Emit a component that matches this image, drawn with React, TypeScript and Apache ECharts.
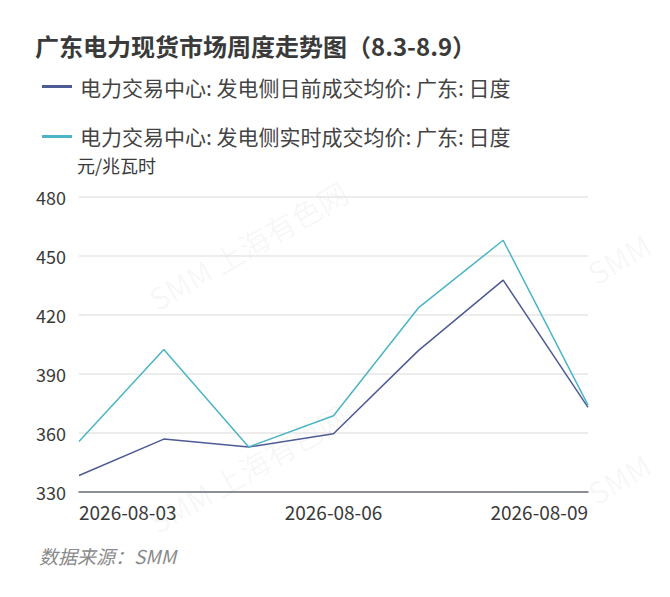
import React, { useEffect, useRef } from "react";
import * as echarts from "echarts";

const categories = ["2026-08-03", "2026-08-04", "2026-08-05", "2026-08-06", "2026-08-07", "2026-08-08", "2026-08-09"];
const dayAheadName = "电力交易中心: 发电侧日前成交均价: 广东: 日度";
const realTimeName = "电力交易中心: 发电侧实时成交均价: 广东: 日度";
const dayAhead = [338.4, 356.9, 352.9, 359.6, 401.9, 437.7, 373.0];
const realTime = [355.7, 402.5, 352.9, 368.8, 423.6, 458.0, 374.2];
const yTicks = { min: 330, max: 480, interval: 30 };

const FONT = "'Noto Sans CJK SC', 'Noto Sans', sans-serif";

export default function App() {
  const ref = useRef<HTMLDivElement>(null);
  useEffect(() => {
    if (!ref.current) return;
    const chart = echarts.init(ref.current, undefined, { renderer: "svg" });
    const wm = (x: number, y: number, text: string, align: string) => ({
      type: "text",
      x,
      y,
      rotation: (30 * Math.PI) / 180,
      silent: true,
      z: 0,
      style: { text, fill: "rgba(0,0,0,0.045)", font: `30px ${FONT}`, align, verticalAlign: "middle" },
    });
    chart.setOption({
      animation: false,
      backgroundColor: "#fff",
      textStyle: { fontFamily: FONT },
      title: {
        text: "广东电力现货市场周度走势图（8.3-8.9）",
        left: 30,
        top: 28,
        textStyle: { fontSize: 24, fontWeight: "bold", color: "#3a3a3a", fontFamily: FONT },
      },
      legend: {
        orient: "vertical",
        left: 37,
        top: 71,
        itemWidth: 30,
        itemHeight: 3,
        itemGap: 29,
        icon: "rect",
        textStyle: { fontSize: 21, color: "#444", fontFamily: FONT, padding: [0, 0, 0, 3] },
        data: [dayAheadName, realTimeName],
      },
      graphic: [
        wm(248, 245, "SMM 上海有色网", "center"),
        wm(248, 468, "SMM 上海有色网", "center"),
        wm(590, 275, "SMM", "left"),
        wm(590, 495, "SMM", "left"),
        {
          type: "text",
          left: 39,
          top: 546,
          style: { text: "数据来源：SMM", fill: "#8a8a8a", font: `italic 19px ${FONT}` },
        },
      ],
      grid: { left: 79, right: 82, top: 197, bottom: 105 },
      xAxis: {
        type: "category",
        data: categories,
        boundaryGap: false,
        axisLine: { lineStyle: { color: "#6e7079", width: 1.5 } },
        axisTick: { show: false },
        axisLabel: {
          interval: 2,
          fontSize: 19,
          color: "#3a3a3a",
          margin: 10,
          alignMinLabel: "left",
          alignMaxLabel: "right",
        },
      },
      yAxis: {
        type: "value",
        min: yTicks.min,
        max: yTicks.max,
        interval: yTicks.interval,
        name: "元/兆瓦时",
        nameLocation: "end",
        nameGap: 23,
        nameTextStyle: { fontSize: 18, color: "#3a3a3a", align: "left", padding: [0, 0, 0, -2] },
        axisLine: { show: false },
        axisTick: { show: false },
        axisLabel: { fontSize: 18, color: "#3a3a3a", margin: 13 },
        splitLine: { lineStyle: { color: "#e6e6e6", width: 1.5 } },
      },
      series: [
        {
          name: dayAheadName,
          type: "line",
          data: dayAhead,
          symbol: "none",
          lineStyle: { width: 1.5, color: "#4e5b94" },
          itemStyle: { color: "#4e5b94" },
        },
        {
          name: realTimeName,
          type: "line",
          data: realTime,
          symbol: "none",
          lineStyle: { width: 1.5, color: "#4cb4c7" },
          itemStyle: { color: "#4cb4c7" },
        },
      ],
    });
    return () => chart.dispose();
  }, []);
  return <div ref={ref} style={{ width: 670, height: 597, margin: -8 }} />;
}
